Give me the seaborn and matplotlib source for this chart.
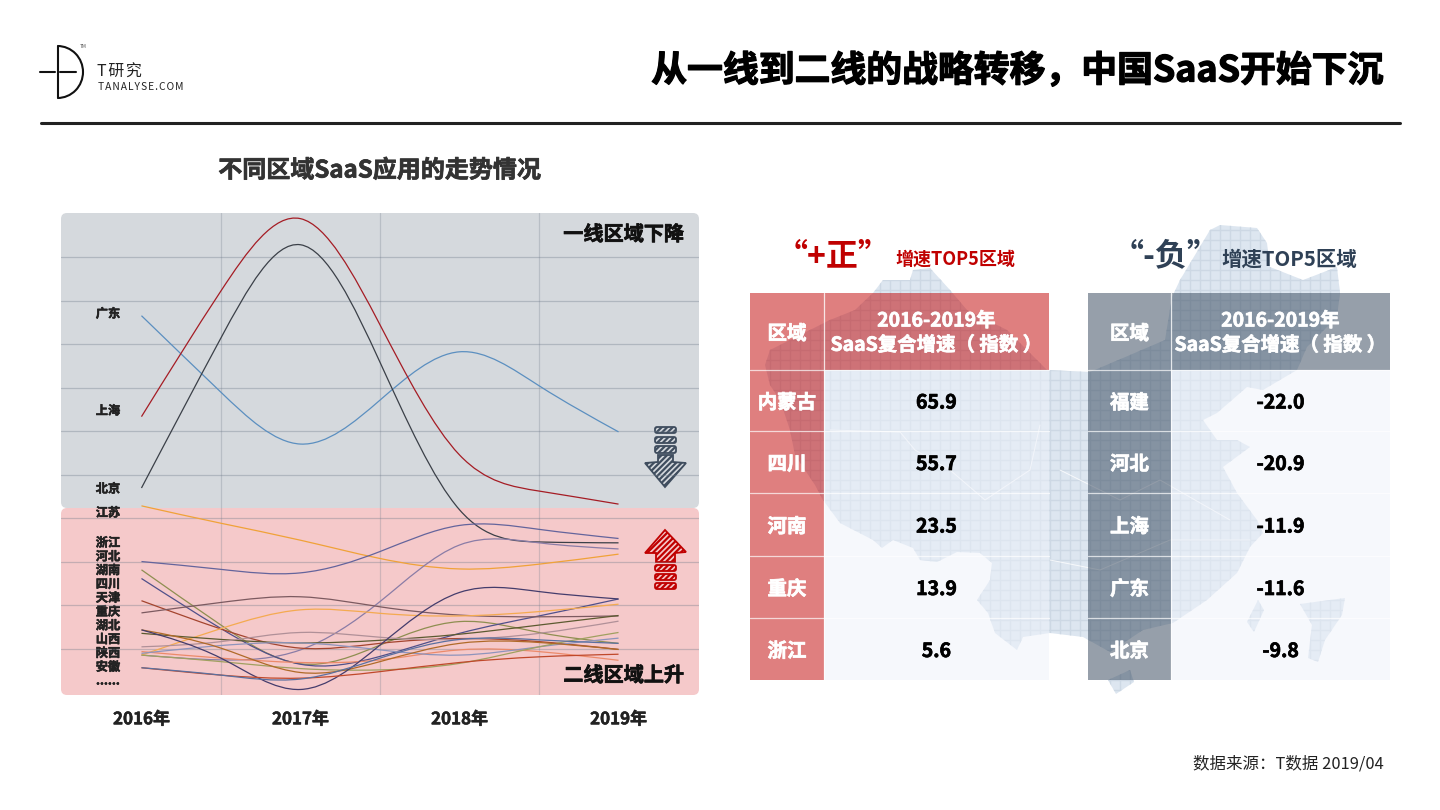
import numpy as np
import pandas as pd
import matplotlib
matplotlib.use("Agg")
import matplotlib.pyplot as plt
import matplotlib.patheffects as pe
import seaborn as sns
from matplotlib.patches import FancyBboxPatch, PathPatch, Polygon, Rectangle, Arc
from matplotlib.path import Path

sns.set_theme(style="white")
plt.rcParams['font.family'] = ['Noto Sans CJK SC', 'DejaVu Sans']
plt.rcParams['hatch.linewidth'] = 1.6

# half-year sample points, value = reading on the (unlabelled) index grid
years = [2016, 2016.5, 2017, 2017.5, 2018, 2018.5, 2019]
year_ticks = [2016, 2017, 2018, 2019]
year_labels = ['2016年', '2017年', '2018年', '2019年']

guangdong = [8.66, 6.90, 5.71, 6.72, 7.83, 7.05, 5.99]
shanghai = [6.34, 9.23, 10.89, 8.45, 5.46, 4.63, 4.33]
beijing = [4.70, 8.15, 10.29, 7.59, 4.20, 3.46, 3.44]
jiangsu = [4.29, 3.89, 3.50, 3.08, 2.84, 2.95, 3.18]
zhejiang = [3.01, 2.83, 2.75, 3.24, 3.84, 3.75, 3.54]
hebei = [0.86, 0.75, 0.98, 2.09, 3.39, 3.44, 3.30]
hunan = [2.82, 1.55, 0.66, 1.09, 1.63, 1.38, 1.13]
sichuan = [2.62, 1.47, 0.65, 0.83, 1.36, 1.76, 2.15]
tianjin = [2.11, 1.46, 1.02, 1.13, 1.24, 1.17, 0.99]
chongqing = [1.83, 2.07, 2.20, 1.97, 1.78, 1.74, 1.76]
hubei = [0.86, 1.47, 1.90, 1.82, 1.76, 1.86, 2.03]
shanxi = [1.36, 1.22, 1.14, 1.20, 1.34, 1.55, 1.77]
shaanxi = [1.05, 1.17, 1.38, 1.27, 1.22, 1.36, 1.64]
anhui = [0.94, 0.79, 0.69, 0.75, 0.98, 0.94, 0.74]
other_a = [0.90, 1.08, 1.14, 0.98, 0.86, 1.05, 1.25]
other_b = [0.86, 0.71, 0.55, 0.52, 0.67, 1.05, 1.38]
other_c = [1.44, 1.02, 0.46, 0.71, 1.13, 1.15, 0.99]
other_d = [1.44, 0.79, 0.07, 1.09, 2.30, 2.32, 2.15]
other_e = [0.57, 0.40, 0.33, 0.48, 0.69, 0.82, 0.88]
other_f = [0.57, 0.40, 0.31, 0.79, 1.22, 1.21, 1.13]

first_tier_labels = ['广东', '上海', '北京']
second_tier_labels = ['浙江', '河北', '湖南', '四川', '天津', '重庆', '湖北', '山西', '陕西', '安徽', '......']

pos_regions = ['内蒙古', '四川', '河南', '重庆', '浙江']
pos_values = [65.9, 55.7, 23.5, 13.9, 5.6]
neg_regions = ['福建', '河北', '上海', '广东', '北京']
neg_values = [-22.0, -20.9, -11.9, -11.6, -9.8]

series = {
    '广东': (guangdong, '#5b8fc0'), '上海': (shanghai, '#a51c24'), '北京': (beijing, '#3b4048'),
    '江苏': (jiangsu, '#f0a238'), '浙江': (zhejiang, '#64649c'), '河北': (hebei, '#8a7ca6'),
    '湖南': (hunan, '#8e8e50'), '四川': (sichuan, '#50508a'), '天津': (tianjin, '#a4442e'),
    '重庆': (chongqing, '#7c5a60'), '湖北': (hubei, '#f4aa50'), '山西': (shanxi, '#5c5a30'),
    '陕西': (shaanxi, '#b09098'), '安徽': (anhui, '#ec8a6a'), '其他a': (other_a, '#8e94bc'),
    '其他b': (other_b, '#a0a060'), '其他c': (other_c, '#b06a28'), '其他d': (other_d, '#443c6c'),
    '其他e': (other_e, '#c0482a'), '其他f': (other_f, '#5a70a0'),
}

df = pd.DataFrame([
    {'year': y, 'index': v, 'region': name}
    for name, (vals, _) in series.items()
    for y, v in zip(years, vals)
])
palette = {name: c for name, (_, c) in series.items()}

fig = plt.figure(figsize=(14.4, 8.1), dpi=100, facecolor='white')

# pixel canvas for everything around the chart
bg = fig.add_axes([0, 0, 1, 1], zorder=0)
bg.set_xlim(0, 1440)
bg.set_ylim(810, 0)
bg.axis('off')


def heavy(width=0.5, color='black'):
    return [pe.withStroke(linewidth=width, foreground=color)]


# China silhouette behind the tables
china = [(873, 293), (855, 310), (830, 320), (790, 340), (770, 350), (765, 365), (770, 385), (780, 400),
         (790, 430), (795, 455), (815, 485), (823, 500), (840, 523), (873, 540), (882, 548), (893, 540),
         (913, 548), (920, 560), (937, 562), (957, 552), (980, 553), (992, 563), (990, 580), (977, 600),
         (988, 613), (995, 633), (1017, 650), (1023, 637), (1050, 633), (1083, 637), (1110, 652), (1143, 630),
         (1173, 623), (1207, 600), (1237, 573), (1250, 547), (1263, 533), (1257, 520), (1237, 493), (1223, 467),
         (1250, 447), (1237, 440), (1217, 440), (1203, 420), (1217, 413), (1247, 387), (1263, 390), (1280, 380),
         (1297, 370), (1307, 347), (1337, 317), (1340, 293), (1337, 267), (1303, 280), (1270, 267), (1267, 243),
         (1257, 228), (1220, 225), (1210, 230), (1180, 280), (1172, 297), (1165, 340), (1130, 355), (1090, 372),
         (1047, 370), (1007, 330), (967, 310), (950, 290), (930, 268), (913, 270), (910, 280), (883, 280)]
islands = [
    [(1258, 600), (1264, 610), (1254, 632), (1247, 622)],
    [(1108, 680), (1130, 670), (1134, 682), (1116, 694)],
    [(1300, 604), (1345, 598), (1342, 615), (1325, 640), (1318, 662), (1308, 658), (1312, 625)],
]
map_color = '#dde6f0'
clips = []
for pts in [china] + islands:
    p = Polygon(pts, closed=True, fc=map_color, ec='none', zorder=1)
    bg.add_patch(p)
    clips.append(p)
for clip in clips:
    for gx in np.arange(760, 1350, 10):
        bg.plot([gx, gx], [215, 700], color='#cdd8e4', lw=1.0, zorder=1.1).pop().set_clip_path(clip)
    for gy in np.arange(220, 700, 10):
        bg.plot([760, 1350], [gy, gy], color='#cdd8e4', lw=1.0, zorder=1.1).pop().set_clip_path(clip)
# a few province borders in white
for river in [[(830, 430), (900, 432), (915, 450), (950, 470), (985, 500), (1030, 470), (1040, 425)],
              [(1060, 470), (1120, 500), (1160, 480), (1230, 520)],
              [(1050, 560), (1100, 570), (1170, 540), (1250, 540)]]:
    bg.plot(*zip(*river), color='white', lw=0.7, alpha=0.8, zorder=1.2)

# chart panel
bg.add_patch(FancyBboxPatch((67, 219), 626, 283, boxstyle='round,pad=6,rounding_size=6',
                            fc='#d5d9dd', ec='none', zorder=2))
bg.add_patch(FancyBboxPatch((67, 514), 626, 175, boxstyle='round,pad=6,rounding_size=6',
                            fc='#f5c9ca', ec='none', zorder=2))

ax = fig.add_axes([61 / 1440, 1 - 695 / 810, 638 / 1440, 482 / 810], zorder=1)
ax.patch.set_alpha(0)
sns.lineplot(data=df, x='year', y='index', hue='region', hue_order=list(series), palette=palette,
             estimator=None, sort=False, linewidth=0.9, legend=False, ax=ax)


def spline_slopes(x, y):
    # slopes of the natural cubic spline through the points
    n = len(x)
    h = np.diff(x)
    A = np.zeros((n, n))
    b = np.zeros(n)
    A[0, 0], A[0, 1] = 2, 1
    b[0] = 3 * (y[1] - y[0]) / h[0]
    A[-1, -1], A[-1, -2] = 2, 1
    b[-1] = 3 * (y[-1] - y[-2]) / h[-1]
    for i in range(1, n - 1):
        A[i, i - 1] = 1 / h[i - 1]
        A[i, i] = 2 * (1 / h[i - 1] + 1 / h[i])
        A[i, i + 1] = 1 / h[i]
        b[i] = 3 * ((y[i] - y[i - 1]) / h[i - 1] ** 2 + (y[i + 1] - y[i]) / h[i] ** 2)
    return np.linalg.solve(A, b)


# the original lines are smoothed: rebuild each as a bezier through its own points
for line in list(ax.lines):
    xy = line.get_xydata()
    x, y = xy[:, 0], xy[:, 1]
    m = spline_slopes(x, y)
    verts = [(x[0], y[0])]
    codes = [Path.MOVETO]
    for i in range(len(x) - 1):
        h = (x[i + 1] - x[i]) / 3
        verts += [(x[i] + h, y[i] + m[i] * h), (x[i + 1] - h, y[i + 1] - m[i + 1] * h), (x[i + 1], y[i + 1])]
        codes += [Path.CURVE4] * 3
    ax.add_patch(PathPatch(Path(verts, codes), fc='none', ec=line.get_color(), lw=0.9, zorder=3))
    line.remove()

ax.set_xlim(2015.494, 2019.506)
ax.set_ylim(-0.057, 11.02)
ax.set_xticks(year_ticks)
ax.set_xticklabels(year_labels, fontsize=12.2, fontweight='bold', color='#222222', path_effects=heavy(0.4, '#222222'))
ax.set_xticks([2016.5, 2017.5, 2018.5], minor=True)
ax.set_yticks(range(1, 11))
ax.set_xlabel('')
ax.set_ylabel('')
ax.tick_params(axis='x', which='both', length=0, pad=11)
ax.tick_params(axis='y', length=0, labelleft=False)
ax.grid(True, axis='y', color='#6f7b8a', alpha=0.36, lw=0.9)
ax.grid(True, axis='x', which='minor', color='#6f7b8a', alpha=0.28, lw=0.9)
ax.set_axisbelow(True)
sns.despine(ax=ax, left=True, bottom=True)

# region labels on the left of the lines
for name, py in zip(first_tier_labels, [314, 411, 489]):
    bg.text(108, py, name, ha='center', va='center', fontsize=8.8, fontweight='bold', color='#222222', zorder=4,
            path_effects=heavy(0.4, '#222222'))
bg.text(108, 513, '江苏', ha='center', va='center', fontsize=8.8, fontweight='bold', color='#222222', zorder=4,
        path_effects=heavy(0.4, '#222222'))
for i, name in enumerate(second_tier_labels):
    bg.text(108, 543 + i * 13.8, name, ha='center', va='center', fontsize=8.8, fontweight='bold',
            color='#222222', zorder=4, path_effects=heavy(0.4, '#222222'))

bg.text(684, 234, '一线区域下降', ha='right', va='center', fontsize=14.5, fontweight='bold', color='#111111', zorder=4,
        path_effects=heavy(0.5, '#111111'))
bg.text(684, 675, '二线区域上升', ha='right', va='center', fontsize=14.5, fontweight='bold', color='#111111', zorder=4,
        path_effects=heavy(0.5, '#111111'))


def hatched_arrow(head, bars, color, face):
    bg.add_patch(Polygon(head, closed=True, fc=face, ec=color, lw=1.3, hatch='//////', zorder=4))
    for (x0, y0, w, h) in bars:
        bg.add_patch(FancyBboxPatch((x0, y0), w, h, boxstyle='round,pad=0,rounding_size=2',
                                    fc=face, ec=color, lw=1.3, hatch='//////', zorder=4))


hatched_arrow([(658, 455), (673, 455), (673, 462), (686, 463), (665, 487), (645, 463), (658, 462)],
              [(655, 427, 21, 6), (655, 437, 21, 6), (655, 446, 21, 7)], '#3f4d5e', '#d5d9dd')
hatched_arrow([(665, 530), (686, 552), (675, 553), (675, 562), (656, 562), (656, 553), (645, 553)],
              [(655, 565, 21, 6), (655, 574, 21, 6), (655, 583, 21, 6)], '#c00000', '#f5c9ca')

# header
bg.plot([57.5, 57.5], [46, 98], color='#111111', lw=1.5, zorder=5)
bg.add_patch(Arc((57.5, 72), 51, 52, theta1=-90, theta2=90, color='#111111', lw=1.5, zorder=5))
bg.plot([40, 55], [72, 72], color='#111111', lw=1.5, zorder=5)
bg.plot([60, 76], [72, 72], color='#111111', lw=1.5, zorder=5)
bg.text(83, 47, 'TM', fontsize=3.5, color='#555555', ha='center', va='center')
bg.text(97, 72, 'T\u200a研\u200a究', fontsize=11.5, color='#222222', ha='left', va='center')
bg.text(98, 87, '\u200a'.join('TANALYSE.COM'), fontsize=7.4, color='#222222', ha='left', va='center')
bg.text(1384, 71, '从一线到二线的战略转移，中国SaaS开始下沉', fontsize=25.8, fontweight='bold', color='black',
        ha='right', va='center', path_effects=heavy(0.9, 'black'))
bg.plot([41, 1400], [123, 123], color='#222222', lw=2.2, zorder=5)
bg.text(379.5, 170.5, '不同区域SaaS应用的走势情况', fontsize=17.3, fontweight='bold', color='#333333',
        ha='center', va='center', path_effects=heavy(0.5, '#333333'))

# tables
row_edges = [293, 370, 431, 493, 556, 618, 680]


def draw_table(x0, x1, x2, color, regions, values):
    bg.add_patch(Rectangle((x0, row_edges[0]), x2 - x0, row_edges[1] - row_edges[0], fc=color, alpha=0.5,
                           ec='none', zorder=3))
    bg.add_patch(Rectangle((x0, row_edges[1]), x1 - x0, row_edges[-1] - row_edges[1], fc=color, alpha=0.5,
                           ec='none', zorder=3))
    bg.add_patch(Rectangle((x1, row_edges[1]), x2 - x1, row_edges[-1] - row_edges[1], fc='#eef2fa', alpha=0.5,
                           ec='none', zorder=3))
    bg.plot([x1, x1], [row_edges[0], row_edges[-1]], color='white', lw=0.9, alpha=0.8, zorder=3.5)
    for r in row_edges[1:-1]:
        bg.plot([x0, x2], [r, r], color='white', lw=0.9, alpha=0.7, zorder=3.5)
    white = heavy(0.5, 'white')
    bg.text((x0 + x1) / 2, 334, '区域', fontsize=14, fontweight='bold', color='white', ha='center', va='center',
            zorder=4, path_effects=white)
    bg.text((x1 + x2) / 2, 321, '2016-2019年', fontsize=14, fontweight='bold', color='white', ha='center', va='center',
            zorder=4, path_effects=white)
    bg.text((x1 + x2) / 2, 345, 'SaaS复合增速（ 指数 ）', fontsize=14, fontweight='bold', color='white', ha='center',
            va='center', zorder=4, path_effects=white)
    for i, (name, val) in enumerate(zip(regions, values)):
        cy = (row_edges[i + 1] + row_edges[i + 2]) / 2 + 2.5
        bg.text((x0 + x1) / 2, cy, name, fontsize=14, fontweight='bold', color='white', ha='center', va='center',
                zorder=4, path_effects=white)
        bg.text((x1 + x2) / 2, cy, f'{val:.1f}', fontsize=14, fontweight='bold', color='black', ha='center',
                va='center', zorder=4, path_effects=heavy(0.5, 'black'))


draw_table(750, 824, 1049, '#c00000', pos_regions, pos_values)
draw_table(1088, 1171, 1390, '#2f4156', neg_regions, neg_values)

bg.text(833, 256, '“+正”', fontsize=23, fontweight='bold', color='#c00000', ha='center', va='center', zorder=4)
bg.text(955, 259, '增速TOP5区域', fontsize=13, fontweight='bold', color='#c00000', ha='center', va='center', zorder=4)
bg.text(1166, 256, '“-负”', fontsize=23, fontweight='bold', color='#2f4156', ha='center', va='center', zorder=4)
bg.text(1289, 259, '增速TOP5区域', fontsize=14.7, fontweight='bold', color='#2f4156', ha='center', va='center', zorder=4)

bg.text(1384, 764, '数据来源：T数据 2019/04', fontsize=11.9, color='#222222', ha='right', va='center')

fig.savefig('out.png', dpi=100)
